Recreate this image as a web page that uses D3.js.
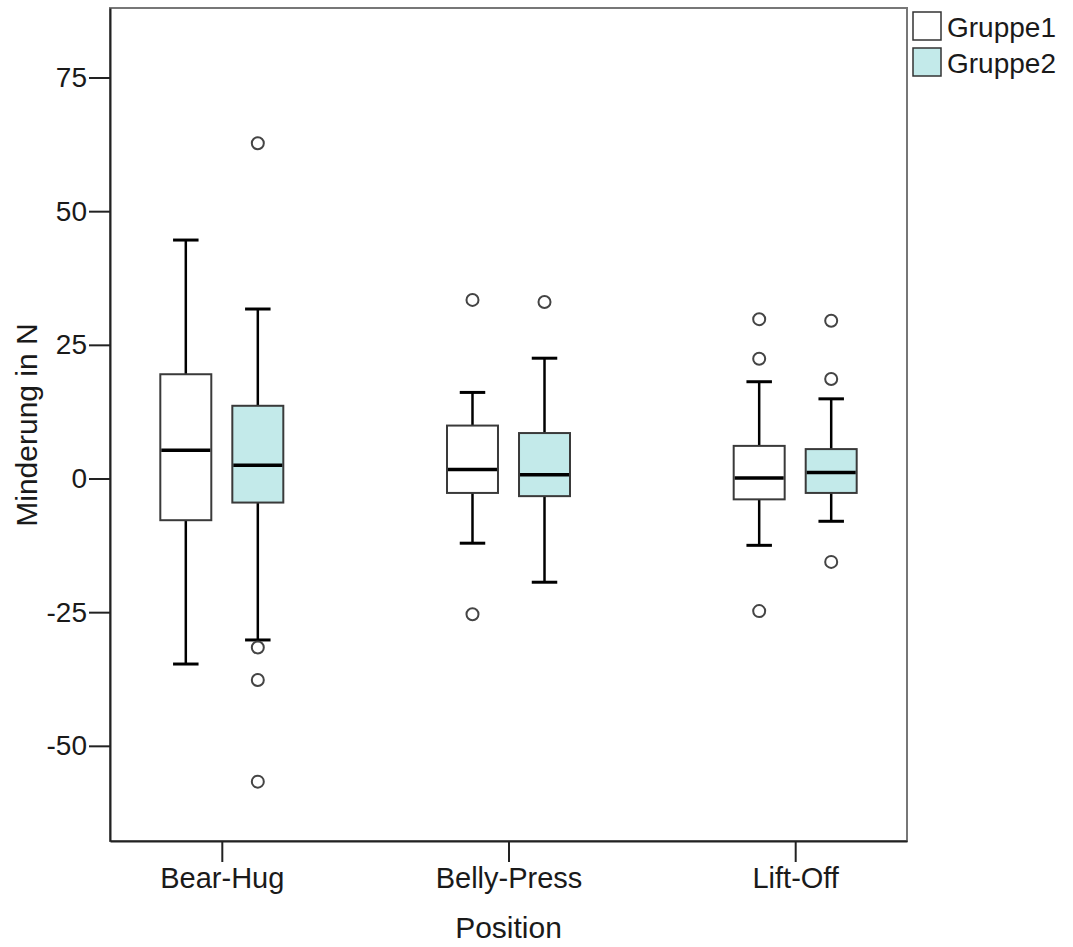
<!DOCTYPE html>
<html>
<head>
<meta charset="utf-8">
<script src="https://cdn.jsdelivr.net/npm/d3@7"></script>
<style>
  body { margin: 0; background: #fff; }
  text { font-family: "Liberation Sans", Arial, Helvetica, sans-serif; fill: #1a1a1a; }
</style>
</head>
<body>
<div id="chart"></div>
<script>
// categories and groups
const positions = ["Bear-Hug", "Belly-Press", "Lift-Off"];
const groups = ["Gruppe1", "Gruppe2"];
const groupFill = ["#ffffff", "#c3eaea"];

// box stats per position: [lower whisker, Q1, median, Q3, upper whisker]
const gruppe1Stats = [
    [-34.7, -7.8, 5.3, 19.5, 44.6],
    [-12.1, -2.7, 1.7, 9.9, 16.1],
    [-12.5, -3.9, 0.1, 6.1, 18.1]
];
const gruppe2Stats = [
    [-30.2, -4.5, 2.5, 13.6, 31.7],
    [-19.4, -3.3, 0.7, 8.5, 22.5],
    [-8.0, -2.7, 1.1, 5.5, 14.9]
];
const gruppe1Outliers = [[], [33.4, -25.4], [29.8, 22.4, -24.8]];
const gruppe2Outliers = [[62.7, -31.6, -37.7, -56.7], [33.0], [29.5, 18.6, -15.6]];

const yTicks = [-50, -25, 0, 25, 50, 75];

let margin = {top: 8, right: 166, bottom: 106, left: 110},
    width = 1073 - margin.left - margin.right,
    height = 947 - margin.top - margin.bottom;

let svg = d3.select("#chart").append("svg")
    .attr("width", 1073)
    .attr("height", 947);

let g = svg.append("g")
    .attr("transform", "translate(" + margin.left + "," + margin.top + ")");

// scales
let x = d3.scalePoint().domain(positions).range([0, width]).padding(0.39);
let xg = d3.scaleBand().domain(groups).range([-61.5, 61.5]).paddingInner(0.292);
let y = d3.scaleLinear().domain([-67.8, 88.0]).range([height, 0]);

// frame
g.append("rect")
    .attr("x", 0).attr("y", 0)
    .attr("width", width).attr("height", height)
    .attr("fill", "none")
    .attr("stroke", "#777")
    .attr("stroke-width", 2);

// build rows for drawing
let boxes = [];
positions.forEach((p, i) => {
    [gruppe1Stats, gruppe2Stats].forEach((stats, k) => {
        let s = stats[i];
        boxes.push({
            pos: p, grp: groups[k], fill: groupFill[k],
            lo: s[0], q1: s[1], med: s[2], q3: s[3], hi: s[4],
            out: [gruppe1Outliers, gruppe2Outliers][k][i]
        });
    });
});

const bw = xg.bandwidth();
const cx = d => x(d.pos) + xg(d.grp) + bw / 2;

let node = g.selectAll(".box")
    .data(boxes)
    .enter()
    .append("g")
    .attr("class", "box");

// whiskers
node.append("line")
    .attr("x1", cx).attr("x2", cx)
    .attr("y1", d => y(d.hi)).attr("y2", d => y(d.q3))
    .attr("stroke", "#000").attr("stroke-width", 2.5);
node.append("line")
    .attr("x1", cx).attr("x2", cx)
    .attr("y1", d => y(d.q1)).attr("y2", d => y(d.lo))
    .attr("stroke", "#000").attr("stroke-width", 2.5);

// caps
["hi", "lo"].forEach(key => {
    node.append("line")
        .attr("x1", d => cx(d) - bw / 4).attr("x2", d => cx(d) + bw / 4)
        .attr("y1", d => y(d[key])).attr("y2", d => y(d[key]))
        .attr("stroke", "#000").attr("stroke-width", 3);
});

// boxes
node.append("rect")
    .attr("x", d => cx(d) - bw / 2)
    .attr("y", d => y(d.q3))
    .attr("width", bw)
    .attr("height", d => y(d.q1) - y(d.q3))
    .attr("fill", d => d.fill)
    .attr("stroke", "#3a3a3a")
    .attr("stroke-width", 2);

// median
node.append("line")
    .attr("x1", d => cx(d) - bw / 2 + 1).attr("x2", d => cx(d) + bw / 2 - 1)
    .attr("y1", d => y(d.med)).attr("y2", d => y(d.med))
    .attr("stroke", "#000").attr("stroke-width", 3.5);

// outliers
node.selectAll("circle")
    .data(d => d.out.map(v => ({v: v, c: cx(d)})))
    .enter()
    .append("circle")
    .attr("cx", d => d.c)
    .attr("cy", d => y(d.v))
    .attr("r", 6)
    .attr("fill", "#fff")
    .attr("stroke", "#444")
    .attr("stroke-width", 2);

// y axis (plain hyphen minus like the original)
let yAxis = g.append("g")
    .call(d3.axisLeft(y).tickValues(yTicks).tickSizeInner(21).tickSizeOuter(0)
        .tickPadding(2).tickFormat(d => String(d)));
yAxis.select(".domain").attr("stroke", "#222").attr("stroke-width", 2);
yAxis.selectAll(".tick line").attr("stroke", "#222").attr("stroke-width", 2);
yAxis.selectAll(".tick text")
    .style("font-size", "28px")
    .attr("fill", "#1a1a1a");

// x axis
let xAxis = g.append("g")
    .attr("transform", "translate(0," + height + ")")
    .call(d3.axisBottom(x).tickSizeInner(21).tickSizeOuter(0).tickPadding(5));
xAxis.select(".domain").attr("stroke", "#222").attr("stroke-width", 2);
xAxis.selectAll(".tick line").attr("stroke", "#222").attr("stroke-width", 2);
xAxis.selectAll(".tick text")
    .style("font-size", "29px")
    .attr("fill", "#1a1a1a");

// axis titles
svg.append("text")
    .attr("x", margin.left + width / 2)
    .attr("y", 938)
    .attr("text-anchor", "middle")
    .style("font-size", "30px")
    .text("Position");

svg.append("text")
    .attr("transform", "translate(37," + 425 + ") rotate(-90)")
    .attr("text-anchor", "middle")
    .style("font-size", "30px")
    .text("Minderung in N");

// legend
let legend = svg.selectAll(".legend")
    .data(groups)
    .enter()
    .append("g")
    .attr("class", "legend")
    .attr("transform", (d, i) => "translate(913," + (12 + i * 36) + ")");

legend.append("rect")
    .attr("width", 28).attr("height", 28)
    .attr("fill", (d, i) => groupFill[i])
    .attr("stroke", "#333")
    .attr("stroke-width", 1.5);

legend.append("text")
    .attr("x", 34)
    .attr("y", 24.5)
    .style("font-size", "28px")
    .text(d => d);
</script>
</body>
</html>
